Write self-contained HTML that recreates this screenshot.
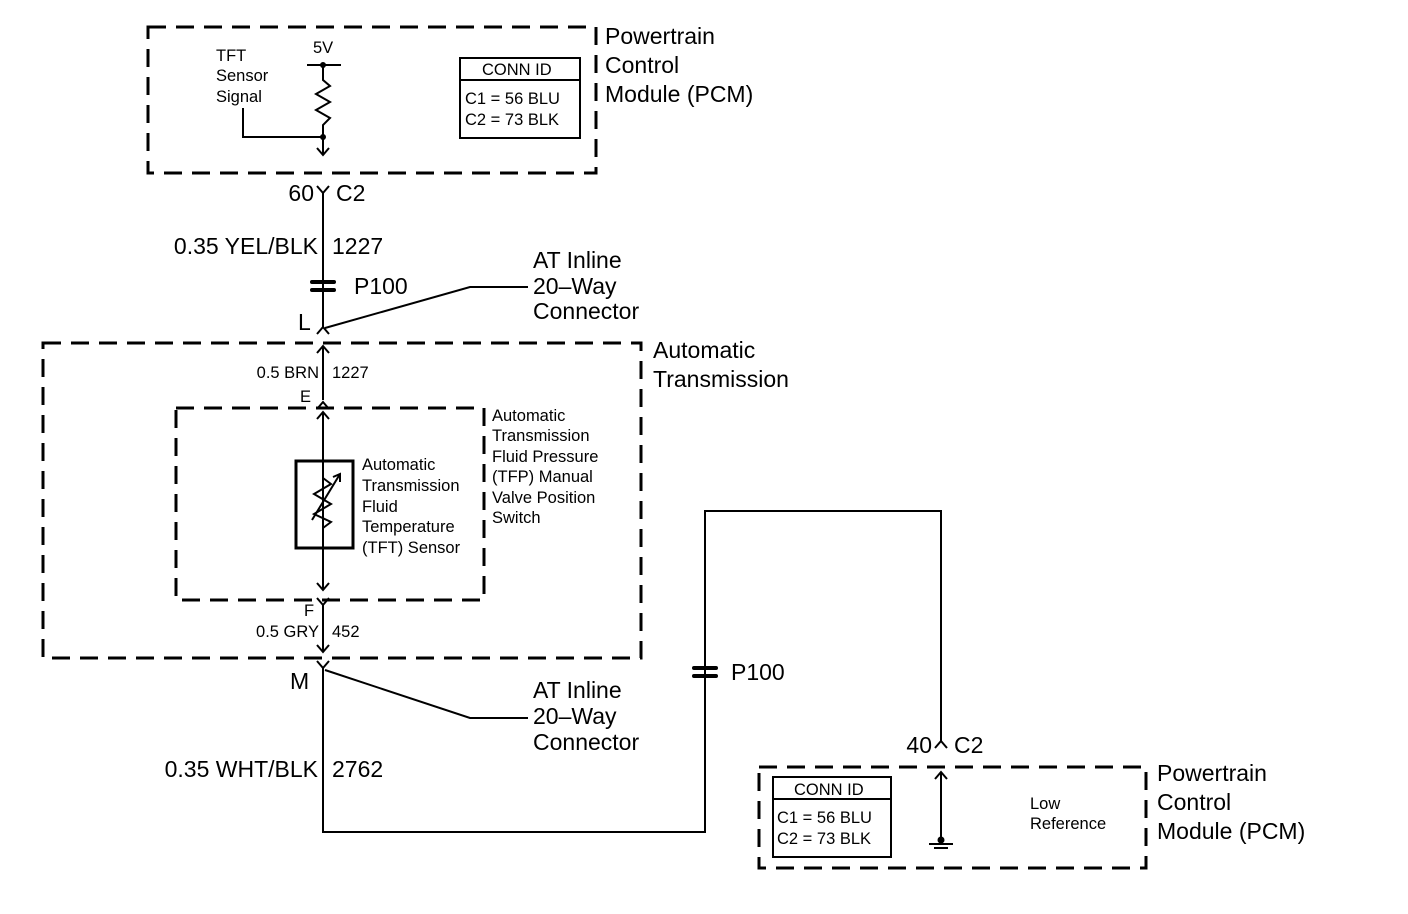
<!DOCTYPE html>
<html><head><style>body{margin:0;background:#fff}svg{display:block}text{font-family:"Liberation Sans",sans-serif;fill:#000}</style></head><body>
<svg width="1408" height="914" viewBox="0 0 1408 914" xmlns="http://www.w3.org/2000/svg">
<g fill="none" stroke="#000">
<g stroke-width="3" stroke-dasharray="18,10">
<rect x="148" y="27" width="448" height="146"/>
<rect x="43" y="343" width="598" height="315"/>
<rect x="176" y="408" width="308" height="192"/>
<rect x="759" y="767" width="387" height="101"/>
</g>
<g stroke-width="2">
<rect x="460" y="58" width="120" height="80"/><line x1="460" y1="80" x2="580" y2="80"/>
<rect x="773" y="777" width="118" height="80"/><line x1="773" y1="799" x2="891" y2="799"/>
<rect x="296" y="461" width="57" height="87" stroke-width="3"/>
<line x1="307" y1="65" x2="341" y2="65"/>
<polyline points="323,65 323,80 330,86 316,94 330,102 316,110 330,118 323,125 323,155"/>
<polyline points="317,148 323,155 329,148"/>
<polyline points="243,108 243,137 323,137"/>
<polyline points="317,186 323,193 329,186"/>
<line x1="323" y1="193" x2="323" y2="327"/>
<polyline points="317,334 323,327 329,334"/>
<polyline points="325,328 470,287 528,287"/>
<line x1="323" y1="346" x2="323" y2="400"/><polyline points="317,353 323,346 329,353"/>
<polyline points="317,409 323,402 329,409"/>
<line x1="323" y1="412" x2="323" y2="590"/><polyline points="317,419 323,412 329,419"/>
<polyline points="317,583 323,590 329,583"/>
<polyline points="323,478 331,484 314,494 331,504 314,514 331,522 323,528"/>
<line x1="312" y1="520" x2="340" y2="474"/><polyline points="333,477 340,474 340,482"/>
<polyline points="317,598 323,605 329,598"/>
<line x1="323" y1="605" x2="323" y2="652"/><polyline points="317,645 323,652 329,645"/>
<polyline points="317,661 323,668 329,661"/>
<polyline points="323,668 323,832 705,832 705,511 941,511 941,741"/>
<polyline points="325,670 470,718 528,718"/>
<polyline points="935,748 941,741 947,748"/>
<line x1="941" y1="773" x2="941" y2="840"/><polyline points="935,779 941,772 947,779"/>
<line x1="929" y1="844" x2="953" y2="844"/><line x1="934" y1="848" x2="948" y2="848"/>
</g>
</g>
<g fill="#000">
<circle cx="323" cy="65" r="3"/><circle cx="323" cy="137" r="3"/><circle cx="941" cy="840" r="3.5"/>
<rect x="310" y="280" width="26" height="4" rx="2"/><rect x="310" y="288" width="26" height="4" rx="2"/>
<rect x="692" y="666" width="26" height="4" rx="2"/><rect x="692" y="674" width="26" height="4" rx="2"/>
</g>
<g font-size="16.5">
<text x="216" y="61">TFT</text><text x="216" y="81">Sensor</text><text x="216" y="102">Signal</text>
<text x="313" y="53">5V</text>
<text x="482" y="75">CONN ID</text><text x="465" y="104">C1 = 56 BLU</text><text x="465" y="125">C2 = 73 BLK</text>
<text x="794" y="795">CONN ID</text><text x="777" y="823">C1 = 56 BLU</text><text x="777" y="844">C2 = 73 BLK</text>
<text x="362" y="470">Automatic</text><text x="362" y="491">Transmission</text><text x="362" y="512">Fluid</text><text x="362" y="532">Temperature</text><text x="362" y="553">(TFT) Sensor</text>
<text x="492" y="421">Automatic</text><text x="492" y="441">Transmission</text><text x="492" y="462">Fluid Pressure</text><text x="492" y="482">(TFP) Manual</text><text x="492" y="503">Valve Position</text><text x="492" y="523">Switch</text>
<text x="319" y="378" text-anchor="end">0.5 BRN</text><text x="332" y="378">1227</text>
<text x="300" y="402">E</text><text x="304" y="616">F</text>
<text x="319" y="637" text-anchor="end">0.5 GRY</text><text x="332" y="637">452</text>
<text x="1030" y="809">Low</text><text x="1030" y="829">Reference</text>
</g>
<g font-size="23">
<text x="605" y="44">Powertrain</text><text x="605" y="73">Control</text><text x="605" y="102">Module (PCM)</text>
<text x="314" y="201" text-anchor="end">60</text><text x="336" y="201">C2</text>
<text x="318" y="254" text-anchor="end">0.35 YEL/BLK</text><text x="332" y="254">1227</text>
<text x="354" y="294">P100</text><text x="298" y="330">L</text>
<text x="533" y="268">AT Inline</text><text x="533" y="294">20–Way</text><text x="533" y="319">Connector</text>
<text x="653" y="358">Automatic</text><text x="653" y="387">Transmission</text>
<text x="290" y="689">M</text>
<text x="533" y="698">AT Inline</text><text x="533" y="724">20–Way</text><text x="533" y="750">Connector</text>
<text x="318" y="777" text-anchor="end">0.35 WHT/BLK</text><text x="332" y="777">2762</text>
<text x="731" y="680">P100</text>
<text x="932" y="753" text-anchor="end">40</text><text x="954" y="753">C2</text>
<text x="1157" y="781">Powertrain</text><text x="1157" y="810">Control</text><text x="1157" y="839">Module (PCM)</text>
</g>
</svg>
</body></html>
